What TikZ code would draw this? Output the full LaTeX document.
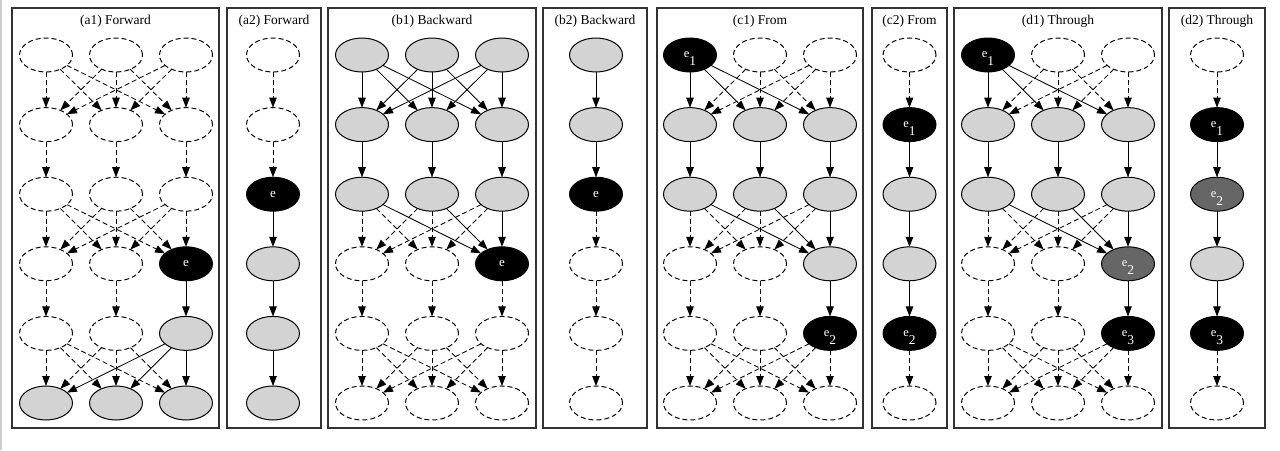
\documentclass[tikz,border=0pt]{standalone}
\usepackage{fontspec}
\setmainfont{Liberation Serif}
\usetikzlibrary{shapes.geometric,arrows.meta}
\definecolor{ngray}{HTML}{D3D3D3}
\definecolor{kgray}{HTML}{666666}
\newcommand\lone{{\fontsize{13}{13}\selectfont e}}
\newcommand\esub[1]{{\fontsize{12.5}{13}\selectfont e\smash{\raisebox{-8pt}{\fontsize{13.5}{14}\selectfont #1}}}}
\def\dnname{dn}
\newcommand\mkpanel[3]{%
  \foreach \r/\c/\s/\l in {#3}{%
    \node[\s] (#1-\r-\c) at ({#2+70*(\c-1)},{55+69.6*(\r-1)}) {\l};
    \edef\tmp{\s}%
    \ifx\tmp\dnname
      \expandafter\xdef\csname F-#1-\r-\c\endcsname{1}%
    \else
      \expandafter\xdef\csname F-#1-\r-\c\endcsname{0}%
    \fi
  }%
}
\newcommand\edgeP[3]{%
  \ifnum\csname F-#1-#2\endcsname\csname F-#1-#3\endcsname=0
    \draw[se] (#1-#2) -- (#1-#3);%
  \else
    \draw[de] (#1-#2) -- (#1-#3);%
  \fi
}
\newcommand\edgesThree[1]{%
  \foreach \r in {1,3,5}{%
    \pgfmathtruncatemacro\rn{\r+1}%
    \foreach \i in {1,2,3}{\foreach \j in {1,2,3}{\edgeP{#1}{\r-\i}{\rn-\j}}}%
  }%
  \foreach \r in {2,4}{%
    \pgfmathtruncatemacro\rn{\r+1}%
    \foreach \i in {1,2,3}{\edgeP{#1}{\r-\i}{\rn-\i}}%
  }%
}
\newcommand\edgesOne[1]{%
  \foreach \r in {1,...,5}{%
    \pgfmathtruncatemacro\rn{\r+1}%
    \edgeP{#1}{\r-1}{\rn-1}%
  }%
}
\tikzset{
  base/.style={ellipse, minimum width=53pt, minimum height=34pt, inner sep=0pt, outer sep=0pt, line width=1pt},
  dn/.style={base, draw, dash pattern=on 5pt off 3pt},
  gn/.style={base, draw, fill=ngray},
  bn/.style={base, draw, fill=black, text=white},
  kn/.style={base, draw, fill=kgray, text=white},
  se/.style={line width=0.85pt, -{Triangle[length=10pt,width=7.5pt]}},
  de/.style={se, dash pattern=on 5pt off 3pt},
  frame/.style={draw=black!80, line width=1.2pt},
  ttl/.style={font=\fontsize{13.5}{16}\selectfont, inner sep=0pt}
}
\begin{document}
\begin{tikzpicture}[x=1pt,y=-1pt]
\useasboundingbox (0,0) rectangle (1280,450);
\fill[white] (0,0) rectangle (1280,450);
\draw[gray!40, line width=2pt] (1,0) -- (1,450);
% frames and titles
\draw[frame] (12,8) rectangle (219,428);   \node[ttl] (ta1) at (115.5,21) {(a1) Forward};
\draw[frame] (227,8) rectangle (321,428);  \node[ttl] (ta2) at (274,21) {(a2) Forward};
\draw[frame] (328,8) rectangle (536,428);  \node[ttl] (tb1) at (432,21) {(b1) Backward};
\draw[frame] (543,8) rectangle (647,428);  \node[ttl] (tb2) at (595,21) {(b2) Backward};
\draw[frame] (657,8) rectangle (863,428);  \node[ttl] (tc1) at (760,21) {(c1) From};
\draw[frame] (872,8) rectangle (947,428);  \node[ttl] (tc2) at (909.5,21) {(c2) From};
\draw[frame] (954,8) rectangle (1162,428); \node[ttl] (td1) at (1058,21) {(d1) Through};
\draw[frame] (1169,8) rectangle (1265,428);\node[ttl] (td2) at (1217,21) {(d2) Through};
% panel a1
\mkpanel{a1}{46}{1/1/dn/{},1/2/dn/{},1/3/dn/{},
  2/1/dn/{},2/2/dn/{},2/3/dn/{},
  3/1/dn/{},3/2/dn/{},3/3/dn/{},
  4/1/dn/{},4/2/dn/{},4/3/bn/\lone,
  5/1/dn/{},5/2/dn/{},5/3/gn/{},
  6/1/gn/{},6/2/gn/{},6/3/gn/{}}
\edgesThree{a1}
% panel a2
\mkpanel{a2}{273}{1/1/dn/{},2/1/dn/{},3/1/bn/\lone,4/1/gn/{},5/1/gn/{},6/1/gn/{}}
\edgesOne{a2}
% panel b1
\mkpanel{b1}{362}{1/1/gn/{},1/2/gn/{},1/3/gn/{},
  2/1/gn/{},2/2/gn/{},2/3/gn/{},
  3/1/gn/{},3/2/gn/{},3/3/gn/{},
  4/1/dn/{},4/2/dn/{},4/3/bn/\lone,
  5/1/dn/{},5/2/dn/{},5/3/dn/{},
  6/1/dn/{},6/2/dn/{},6/3/dn/{}}
\edgesThree{b1}
% panel b2
\mkpanel{b2}{596}{1/1/gn/{},2/1/gn/{},3/1/bn/\lone,4/1/dn/{},5/1/dn/{},6/1/dn/{}}
\edgesOne{b2}
% panel c1
\mkpanel{c1}{690}{1/1/bn/\esub{1},1/2/dn/{},1/3/dn/{},
  2/1/gn/{},2/2/gn/{},2/3/gn/{},
  3/1/gn/{},3/2/gn/{},3/3/gn/{},
  4/1/dn/{},4/2/dn/{},4/3/gn/{},
  5/1/dn/{},5/2/dn/{},5/3/bn/\esub{2},
  6/1/dn/{},6/2/dn/{},6/3/dn/{}}
\edgesThree{c1}
% panel c2
\mkpanel{c2}{909.5}{1/1/dn/{},2/1/bn/\esub{1},3/1/gn/{},4/1/gn/{},5/1/bn/\esub{2},6/1/dn/{}}
\edgesOne{c2}
% panel d1
\mkpanel{d1}{988}{1/1/bn/\esub{1},1/2/dn/{},1/3/dn/{},
  2/1/gn/{},2/2/gn/{},2/3/gn/{},
  3/1/gn/{},3/2/gn/{},3/3/gn/{},
  4/1/dn/{},4/2/dn/{},4/3/kn/\esub{2},
  5/1/dn/{},5/2/dn/{},5/3/bn/\esub{3},
  6/1/dn/{},6/2/dn/{},6/3/dn/{}}
\edgesThree{d1}
% panel d2
\mkpanel{d2}{1217}{1/1/dn/{},2/1/bn/\esub{1},3/1/kn/\esub{2},4/1/gn/{},5/1/bn/\esub{3},6/1/dn/{}}
\edgesOne{d2}
\end{tikzpicture}
\end{document}
